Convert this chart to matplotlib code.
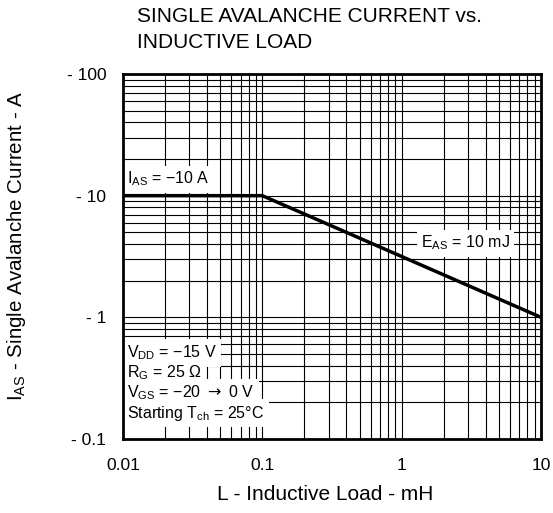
import numpy as np
import matplotlib.pyplot as plt
from matplotlib.ticker import FixedLocator, NullFormatter

plt.rcParams['font.family'] = ['Liberation Sans', 'DejaVu Sans']
plt.rcParams['mathtext.fontset'] = 'custom'
plt.rcParams['mathtext.rm'] = 'Liberation Sans'

# data
L_mH = [0.01, 0.1, 10]
I_A = [10, 10, 1]
x_ticks = [0.01, 0.1, 1, 10]
x_labels = ["0.01", "0.1", "1", "10"]
y_ticks = [0.1, 1, 10, 100]
y_labels = ["- 0.1", "- 1", "- 10", "- 100"]
conditions = ["V$_{\\mathregular{DD}}$ = −15 V",
              "R$_{\\mathregular{G}}$ = 25 Ω",
              "V$_{\\mathregular{GS}}$ = −20 $\\rightarrow$ 0 V",
              "Starting T$_{\\mathregular{ch}}$ = 25°C"]

W, H = 553, 513
fig = plt.figure(figsize=(W / 100, H / 100), dpi=100)
ax = fig.add_axes([123 / W, 1 - 439 / H, 418 / W, 365 / H])

ax.set_xscale('log')
ax.set_yscale('log')
ax.set_xlim(0.01, 10)
ax.set_ylim(0.1, 100)

# grid: every 1..9 per decade
minor_x = [m * 10.0**e for e in range(-2, 1) for m in range(1, 10)]
minor_y = [m * 10.0**e for e in range(-1, 2) for m in range(1, 10)]
for v in minor_x:
    ax.axvline(v, color='black', lw=0.8, zorder=1)
for v in minor_y:
    ax.axhline(v, color='black', lw=0.8, zorder=1)

ax.plot(L_mH, I_A, color='black', lw=2.5, zorder=3, solid_capstyle='butt')

ax.xaxis.set_major_locator(FixedLocator(x_ticks))
ax.set_xticklabels(x_labels)
ax.yaxis.set_major_locator(FixedLocator(y_ticks))
ax.set_yticklabels(y_labels)
ax.xaxis.set_minor_formatter(NullFormatter())
ax.yaxis.set_minor_formatter(NullFormatter())
ax.tick_params(which='both', length=0, labelsize=12.5)
ax.tick_params(axis='x', pad=14)
ax.tick_params(axis='y', pad=12)
for s in ax.spines.values():
    s.set_linewidth(2)
    s.set_zorder(5)

box = dict(facecolor='white', edgecolor='none', pad=3)
ax.text(0.0107, 13.7, "I$_{\\mathregular{AS}}$ = −10 A", fontsize=11.5,
        va='center', ha='left', bbox=box, zorder=4)
ax.text(6.0, 4.08, "E$_{\\mathregular{AS}}$ = 10 mJ", fontsize=11.5,
        va='center', ha='right', bbox=box, zorder=4)

# test conditions, baseline aligned
cbox = dict(facecolor='white', edgecolor='none', pad=3.5)
cond_y = [0.468, 0.320, 0.2193, 0.1502]
for i, (t, yy) in enumerate(zip(conditions, cond_y)):
    txt = ax.text(0.01065, yy, t, fontsize=11.5, va='baseline', ha='left',
                  bbox=cbox, zorder=4)
    if i == 2:
        # arrow from the DejaVu math font, subscript stays in Liberation
        txt.set_math_fontfamily('dejavusans')

fig.text(137 / W, 1 - 17 / H, "SINGLE AVALANCHE CURRENT vs.",
         fontsize=15, ha='left', va='center')
fig.text(137 / W, 1 - 42 / H, "INDUCTIVE LOAD",
         fontsize=15, ha='left', va='center')
fig.text(325 / W, 1 - 495 / H, "L - Inductive Load - mH",
         fontsize=15, ha='center', va='center')
fig.text(17 / W, 1 - 246 / H, "I$_{\\mathregular{AS}}$ - Single Avalanche Current - A",
         fontsize=14.8, ha='center', va='center', rotation=90)

fig.savefig('out.png', dpi=100)
